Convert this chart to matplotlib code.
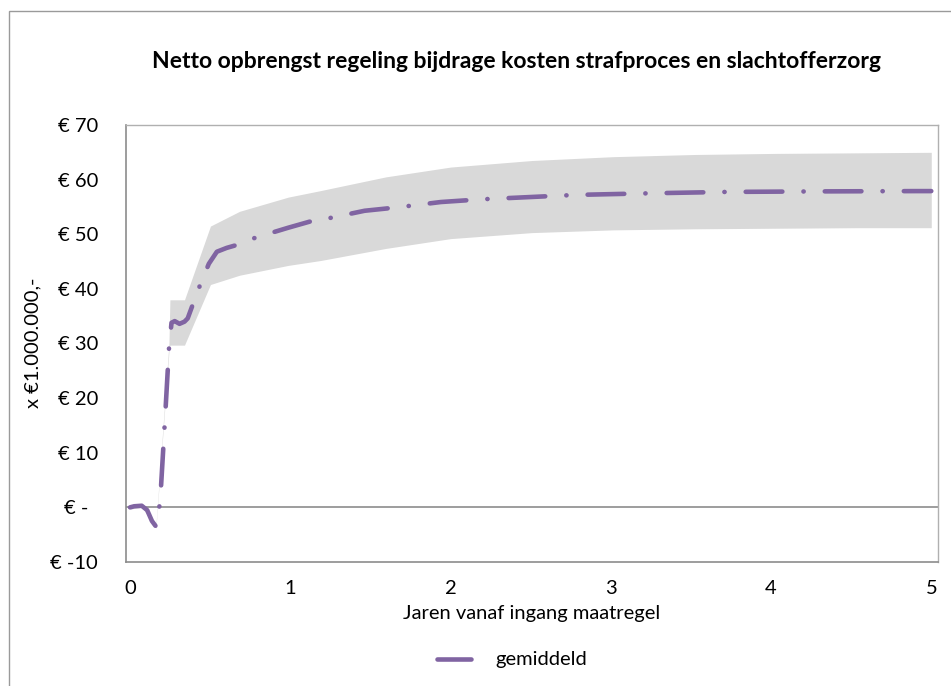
import matplotlib
matplotlib.use("Agg")
import matplotlib.pyplot as plt
from matplotlib.patches import Rectangle
from matplotlib.lines import Line2D

# ---- data ----
mean_x = [0, 0.026, 0.073, 0.107, 0.137, 0.162, 0.188, 0.218, 0.243, 0.259, 0.279, 0.309,
          0.340, 0.360, 0.400, 0.441, 0.492, 0.542, 0.603, 0.674, 0.785, 0.988, 1.120, 1.252,
          1.464, 1.596, 1.718, 1.940, 2.194, 2.416, 2.781, 3.247, 3.724, 4.331, 4.909, 5.0]
mean_y = [0, 0.2, 0.3, -0.5, -2.5, -3.5, 1.0, 16.0, 29.0, 33.8, 34.1, 33.6, 34.0, 34.6,
          37.8, 41.0, 44.6, 46.8, 47.5, 48.1, 49.4, 51.2, 52.3, 53.0, 54.3, 54.7, 55.1, 55.9,
          56.4, 56.7, 57.2, 57.5, 57.75, 57.85, 57.9, 57.9]

band_x = [0, 0.076, 0.162, 0.243, 0.249, 0.340, 0.502, 0.684, 0.988, 1.191, 1.596, 2.001,
          2.508, 3.014, 3.521, 4.027, 4.534, 5.0]
band_upper = [0.3, 0.6, -3.2, 30.0, 38.0, 38.0, 51.5, 54.2, 56.8, 58.0, 60.5, 62.3, 63.5,
              64.2, 64.6, 64.8, 64.9, 65.0]
band_lower = [-0.3, 0.0, -3.8, 28.5, 29.7, 29.7, 40.8, 42.5, 44.3, 45.2, 47.4, 49.2, 50.3,
              50.8, 51.0, 51.1, 51.2, 51.2]

yticks = [-10, 0, 10, 20, 30, 40, 50, 60, 70]
ytick_labels = ["€ -10", "€ -  ", "€ 10", "€ 20", "€ 30", "€ 40", "€ 50", "€ 60", "€ 70"]
xticks = [0, 1, 2, 3, 4, 5]

title = "Netto opbrengst regeling bijdrage kosten strafproces en slachtofferzorg"
xlabel = "Jaren vanaf ingang maatregel"
ylabel = "x €1.000.000,-"
series_label = "gemiddeld"

# ---- style ----
plt.rcParams['font.family'] = ['Lato', 'DejaVu Sans']
purple = "#8064A2"
band_col = "#D9D9D9"
fs = 14.5

W, H = 951, 686
fig = plt.figure(figsize=(W / 100, H / 100), dpi=100)
fig.patch.set_facecolor("white")

# outer chart border
fig.add_artist(Rectangle((9 / W, -0.05), 1.2, 1 - 11 / H + 0.05, transform=fig.transFigure,
                         fill=False, edgecolor="#9a9a9a", linewidth=1.0))

ax = fig.add_axes([126 / W, 1 - 562 / H, (938 - 126) / W, (562 - 125) / H])
ax.fill_between(band_x, band_lower, band_upper, color=band_col, linewidth=0, zorder=1)
ax.axhline(0, color="#8c8c8c", linewidth=1.2, zorder=2)
ax.plot(mean_x, mean_y, color=purple, linewidth=3.3, dashes=(8, 4.6, 0.05, 4.6),
        dash_capstyle="round", solid_capstyle="round", zorder=3, label=series_label)

ax.set_xlim(-0.025, 5.042)
ax.set_ylim(-10, 70)
ax.set_yticks(yticks)
ax.set_yticklabels(ytick_labels)
ax.set_xticks(xticks)
ax.tick_params(axis="both", length=0, labelsize=fs, colors="black")
ax.tick_params(axis="y", pad=20)
ax.tick_params(axis="x", pad=13)
for side in ["left", "bottom"]:
    ax.spines[side].set_color("#8c8c8c")
    ax.spines[side].set_linewidth(1.2)
for side in ["top", "right"]:
    ax.spines[side].set_color("#b0b0b0")
    ax.spines[side].set_linewidth(1.0)

ax.set_xlabel(xlabel, fontsize=fs, labelpad=6)
fig.text(33 / W, 1 - 343 / H, ylabel, rotation=90, ha="center", va="center", fontsize=fs)
fig.text(517 / W, 1 - 61 / H, title, ha="center", va="center", fontsize=16.5, fontweight="bold")

# legend (solid sample line + label)
ly = 1 - 659 / H
fig.add_artist(Line2D([437 / W, 471 / W], [ly, ly], transform=fig.transFigure,
                      color=purple, linewidth=3.3, linestyle="-", solid_capstyle="round"))
fig.text(495 / W, ly, series_label, ha="left", va="center", fontsize=fs)

fig.savefig("out.png", dpi=100, facecolor="white")
